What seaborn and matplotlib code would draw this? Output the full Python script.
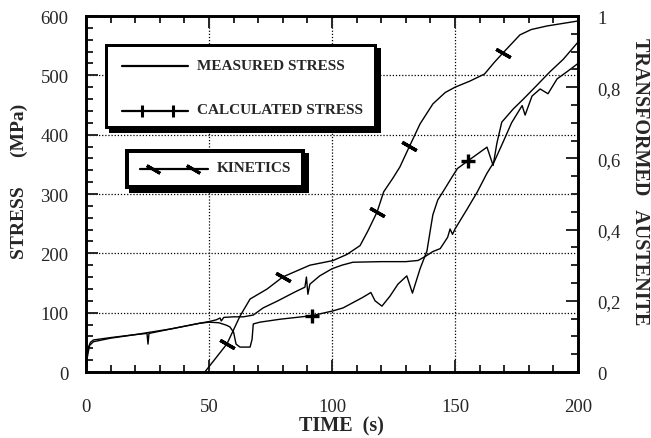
import matplotlib
matplotlib.use("Agg")
import matplotlib.pyplot as plt
import seaborn as sns
import pandas as pd
from matplotlib.patches import Rectangle
from matplotlib.lines import Line2D
from matplotlib.ticker import MultipleLocator, FixedLocator, FixedFormatter

# ---------------- data ----------------
meas_t = [0, 0.5, 1.0, 1.8, 3, 10, 20, 24.8, 25.2, 25.6, 35, 46, 50, 53, 54.5, 55, 56,
          60, 64, 68, 72, 78, 85, 89, 89.6, 90.2, 91, 95, 100, 104, 108.5, 120, 130,
          135, 138, 141, 144, 147, 148, 149, 150, 155, 159, 163, 166, 169.6, 173,
          176.4, 177.3, 178.5, 181.3, 184.6, 187.8, 191.5, 195.5, 200]
meas_s = [0, 25, 42, 50, 54, 58, 63, 65, 47, 65, 73, 82, 85, 88, 91, 86, 92,
          93, 93, 96, 108, 120, 135, 143, 160, 131, 148, 162, 174, 180, 185, 186, 186,
          188, 195, 203, 208, 227, 241, 232, 241, 275, 303, 335, 355, 388, 420,
          443, 449, 433, 465, 477, 469, 494, 506, 520]

calc_t = [0, 0.7, 1.5, 3, 10, 20, 35, 46, 50, 54, 57, 58.5, 60, 61, 62.6, 66.7, 67.5,
          68, 70.7, 79, 92, 100.4, 104.5, 112.6, 115.8, 117.5, 120.3, 123.6, 126.8,
          130.4, 132.7, 135.8, 138.6, 140, 141, 143, 145, 149, 151, 155.3, 160, 163,
          165.5, 167, 169, 173.6, 177.8, 183, 188.6, 194, 200]
calc_s = [5, 30, 45, 51, 57, 63, 73, 82, 84, 83, 79, 76, 67, 47, 42, 42, 55,
          81, 84, 89, 95, 103, 108, 126, 134, 120, 111, 128, 148,
          162, 133, 174, 204, 240, 265, 290, 303, 330, 343, 356, 370, 379,
          348, 385, 421, 443, 460, 482, 506, 527, 556]
calc_marks = [20, 39]

kin_t = [48.3, 57.3, 62.6, 66.7, 73.6, 80, 91, 100.4, 106, 111.4, 114.5, 118.3, 121,
         124.8, 127.6, 131.5, 135.8, 141, 146, 150, 156, 162, 166, 169.6, 176.4,
         181, 187.4, 200]
kin_f = [0, 0.079, 0.157, 0.205, 0.233, 0.267, 0.30, 0.313, 0.33, 0.355, 0.395, 0.449,
         0.506, 0.545, 0.576, 0.634, 0.697, 0.753, 0.785, 0.80, 0.817, 0.837, 0.87,
         0.897, 0.947, 0.962, 0.972, 0.986]
kin_marks = [1, 5, 11, 15, 23]

x_ticks = [0, 50, 100, 150, 200]
y_ticks = [0, 100, 200, 300, 400, 500, 600]
r_ticks = [0, 0.2, 0.4, 0.6, 0.8, 1.0]
r_labels = ["0", "0,2", "0,4", "0,6", "0,8", "1"]

legend_labels = ["MEASURED STRESS", "CALCULATED STRESS", "KINETICS"]

# ---------------- style ----------------
sns.set_style("white")
plt.rcParams["font.family"] = ["Liberation Serif", "DejaVu Serif"]

W, H = 651, 439
fig = plt.figure(figsize=(W / 100, H / 100), dpi=100)
L, R, T, B = 86, 578, 17, 373
ax = fig.add_axes([L / W, 1 - B / H, (R - L) / W, (B - T) / H])
ax2 = ax.twinx()

def px(x, y):
    return x / W, 1 - y / H

meas_df = pd.DataFrame({"t": meas_t, "s": meas_s})
calc_df = pd.DataFrame({"t": calc_t, "s": calc_s})
kin_df = pd.DataFrame({"t": kin_t, "f": kin_f})

LW = 1.0
sns.lineplot(data=meas_df, x="t", y="s", ax=ax, color="black", lw=LW,
             estimator=None, sort=False)
sns.lineplot(data=calc_df, x="t", y="s", ax=ax, color="black", lw=LW,
             estimator=None, sort=False, marker="+", markevery=calc_marks,
             markersize=10, markeredgewidth=2.4, markeredgecolor="black")
sns.lineplot(data=kin_df, x="t", y="f", ax=ax2, color="black", lw=LW,
             estimator=None, sort=False, marker=(2, 2, 60), markevery=kin_marks,
             markersize=12, markeredgewidth=2.4, markeredgecolor="black")

ax.set_xlim(0, 200)
ax.set_ylim(0, 600)
ax2.set_ylim(0, 1)
ax.set_xlabel("")
ax.set_ylabel("")
ax2.set_ylabel("")

ax.xaxis.set_major_locator(FixedLocator(x_ticks))
ax.xaxis.set_minor_locator(MultipleLocator(10))
ax.yaxis.set_major_locator(FixedLocator(y_ticks))
ax.yaxis.set_minor_locator(MultipleLocator(20))
ax2.yaxis.set_major_locator(FixedLocator(r_ticks))
ax2.yaxis.set_major_formatter(FixedFormatter(r_labels))
ax2.yaxis.set_minor_locator(MultipleLocator(0.05))

ax.grid(True, which="major", linestyle=(0, (1, 1.5)), color="black", lw=0.9)
ax2.grid(False)

ax.tick_params(axis="x", which="both", direction="in", top=True, bottom=True,
               labelsize=13.5, pad=18.5, width=1.4)
ax.tick_params(axis="x", which="major", length=8.5)
ax.tick_params(axis="x", which="minor", length=5)
ax.tick_params(axis="y", which="both", direction="in", left=True, right=False,
               labelsize=13.5, pad=12.5, width=1.4)
ax.tick_params(axis="y", which="major", length=8.5)
ax.tick_params(axis="y", which="minor", length=5)
ax2.tick_params(axis="y", which="both", direction="in", right=True, left=False,
                labelsize=13.5, pad=14, width=1.4)
ax2.tick_params(axis="y", which="major", length=8.5)
ax2.tick_params(axis="y", which="minor", length=5)

for a in (ax, ax2):
    for sp in a.spines.values():
        sp.set_visible(True)
        sp.set_linewidth(1.9)
        sp.set_color("black")

# axis titles
fig.text(*px(341, 426), "TIME  (s)", ha="center", va="center",
         fontsize=14.5, fontweight="bold")
fig.text(*px(19, 181), "STRESS      (MPa)", ha="center", va="center",
         rotation=90, fontsize=14, fontweight="bold")
fig.text(*px(640, 182), "TRANSFORMED   AUSTENITE", ha="center", va="center",
         rotation=270, fontsize=14.5, fontweight="bold")

# ---------------- legend boxes ----------------
def box(x0, y0, x1, y1, b, sh):
    fx0, fy1 = px(x0 + sh, y1 + sh)
    fig.add_artist(Rectangle((fx0, fy1), (x1 - x0) / W, (y1 - y0) / H,
                             facecolor="black", edgecolor="none"))
    fx0, fy1 = px(x0, y1)
    fig.add_artist(Rectangle((fx0, fy1), (x1 - x0) / W, (y1 - y0) / H,
                             facecolor="black", edgecolor="none"))
    fx0, fy1 = px(x0 + b, y1 - b)
    fig.add_artist(Rectangle((fx0, fy1), (x1 - x0 - 2 * b) / W, (y1 - y0 - 2 * b) / H,
                             facecolor="white", edgecolor="none"))

box(105, 45, 377, 130, 3, 3.5)
box(125, 150, 305, 190, 4, 3.5)

def sample(xs, y, **kw):
    fxs = [x / W for x in xs]
    fy = 1 - y / H
    fig.add_artist(Line2D(fxs, [fy] * len(fxs), color="black", lw=1.6, **kw))

sample([122, 188], 67)
sample([122, 142, 173, 188], 112, marker="|", markevery=[1, 2], markersize=9,
       markeredgewidth=2.2)
sample([140, 153, 193, 208], 170, marker=(2, 2, 60), markevery=[1, 2],
       markersize=11, markeredgewidth=2.2)

fig.text(*px(197, 67), legend_labels[0], ha="left", va="center",
         fontsize=11, fontweight="bold")
fig.text(*px(197, 111), legend_labels[1], ha="left", va="center",
         fontsize=11, fontweight="bold")
fig.text(*px(217, 169), legend_labels[2], ha="left", va="center",
         fontsize=11, fontweight="bold")

fig.savefig("out.png", dpi=100)
